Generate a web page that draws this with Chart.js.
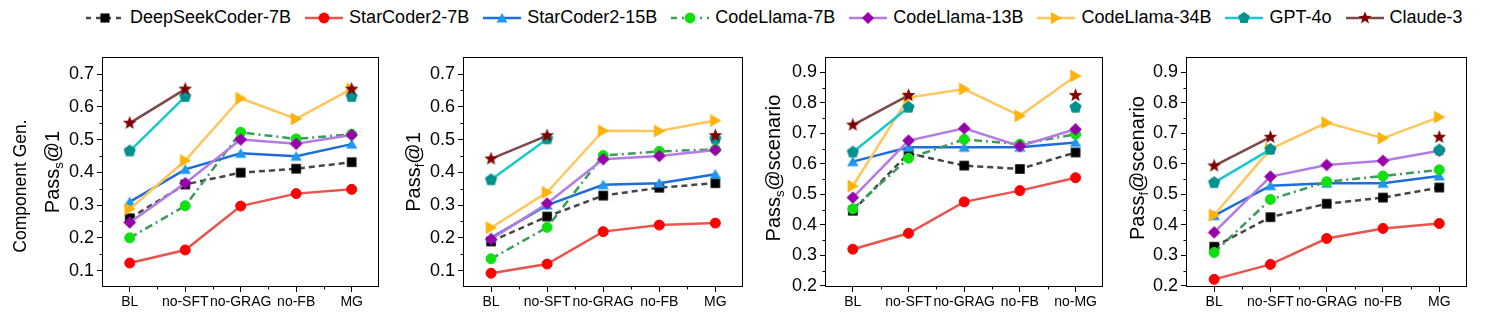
<!DOCTYPE html>
<html>
<head>
<meta charset="utf-8">
<script src="https://cdn.jsdelivr.net/npm/chart.js@4.4.1/dist/chart.umd.min.js"></script>
<style>
  body { margin: 0; background: #fff; width: 1499px; height: 320px; position: relative; overflow: hidden; font-family: "Liberation Sans", Arial, sans-serif; }
  #legend { position: absolute; left: 84px; top: 7px; display: flex; align-items: center; gap: 12px; }
  .item { display: flex; align-items: center; }
  .item canvas { display: block; }
  .txt { white-space: nowrap; margin-left: 4px; font-size: 18px; color: #000; }
  .panel { position: absolute; top: 40px; }
</style>
</head>
<body>
<div id="legend"></div>
<canvas id="p1" class="panel"></canvas>
<canvas id="p2" class="panel"></canvas>
<canvas id="p3" class="panel"></canvas>
<canvas id="p4" class="panel"></canvas>
<script>
// categories and tick labels
const categories = ['BL', 'no-SFT', 'no-GRAG', 'no-FB', 'MG'];
const categoriesNoMG = ['BL', 'no-SFT', 'no-GRAG', 'no-FB', 'no-MG'];
const ticksLow = [0.1, 0.2, 0.3, 0.4, 0.5, 0.6, 0.7];
const ticksHigh = [0.2, 0.3, 0.4, 0.5, 0.6, 0.7, 0.8, 0.9];

// values: one row per panel (Pass_s@1, Pass_f@1, Pass_s@scenario, Pass_f@scenario)
const deepSeek7B = [
  [0.26, 0.363, 0.399, 0.411, 0.431],
  [0.189, 0.265, 0.329, 0.353, 0.367],
  [0.446, 0.634, 0.594, 0.583, 0.637],
  [0.328, 0.425, 0.469, 0.489, 0.522]
];
const starCoder7B = [
  [0.123, 0.163, 0.297, 0.335, 0.348],
  [0.092, 0.12, 0.219, 0.239, 0.245],
  [0.32, 0.372, 0.475, 0.512, 0.554],
  [0.221, 0.27, 0.355, 0.388, 0.404]
];
const starCoder15B = [
  [0.31, 0.409, 0.458, 0.449, 0.486],
  [0.2, 0.3, 0.362, 0.367, 0.394],
  [0.607, 0.654, 0.654, 0.654, 0.67],
  [0.43, 0.528, 0.536, 0.536, 0.56]
];
const codeLlama7B = [
  [0.2, 0.298, 0.522, 0.502, 0.516],
  [0.136, 0.232, 0.451, 0.464, 0.47],
  [0.452, 0.618, 0.68, 0.664, 0.697],
  [0.309, 0.483, 0.541, 0.56, 0.58]
];
const codeLlama13B = [
  [0.247, 0.367, 0.5, 0.487, 0.514],
  [0.196, 0.305, 0.44, 0.45, 0.468],
  [0.489, 0.676, 0.716, 0.658, 0.713],
  [0.375, 0.558, 0.596, 0.61, 0.643]
];
const codeLlama34B = [
  [0.288, 0.436, 0.626, 0.563, 0.655],
  [0.231, 0.339, 0.527, 0.526, 0.558],
  [0.527, 0.817, 0.845, 0.757, 0.888],
  [0.432, 0.648, 0.735, 0.684, 0.753]
];
const gpt4o = [
  [0.465, 0.631, null, null, 0.631],
  [0.377, 0.502, null, null, 0.502],
  [0.638, 0.785, null, null, 0.785],
  [0.538, 0.647, null, null, 0.645]
];
const claude3 = [
  [0.55, 0.654, null, null, 0.654],
  [0.441, 0.512, null, null, 0.512],
  [0.727, 0.824, null, null, 0.824],
  [0.593, 0.687, null, null, 0.687]
];

const FONT = '"Liberation Sans", Arial, sans-serif';

const series = [
  { name: 'DeepSeekCoder-7B', data: deepSeek7B, line: '#454545', mark: '#000000', dash: [6, 4], shape: 'square', r: 4.8 },
  { name: 'StarCoder2-7B', data: starCoder7B, line: '#e8554d', mark: '#ff0000', dash: [], shape: 'circle', r: 5.6 },
  { name: 'StarCoder2-15B', data: starCoder15B, line: '#1d6ed8', mark: '#2196ee', dash: [], shape: 'triUp', r: 6.6 },
  { name: 'CodeLlama-7B', data: codeLlama7B, line: '#3c9a5c', mark: '#10e010', dash: [8, 4, 2, 4], shape: 'circle', r: 5.6 },
  { name: 'CodeLlama-13B', data: codeLlama13B, line: '#b27ce2', mark: '#9800aa', dash: [], shape: 'diamond', r: 6.3 },
  { name: 'CodeLlama-34B', data: codeLlama34B, line: '#ffc65e', mark: '#ffb20a', dash: [], shape: 'triRight', r: 7.6 },
  { name: 'GPT-4o', data: gpt4o, line: '#18c8cc', mark: '#00908e', dash: [], shape: 'pentagon', r: 6.4 },
  { name: 'Claude-3', data: claude3, line: '#7c4848', mark: '#800000', dash: [], shape: 'star', r: 7.2 }
];

function drawMarker(ctx, shape, x, y, r) {
  ctx.beginPath();
  const poly = (n, start, radii) => {
    for (let k = 0; k < n; k++) {
      const a = start + k * 2 * Math.PI / n;
      const rr = radii[k % radii.length];
      const px = x + Math.cos(a) * rr, py = y + Math.sin(a) * rr;
      if (k === 0) ctx.moveTo(px, py); else ctx.lineTo(px, py);
    }
    ctx.closePath();
  };
  if (shape === 'square') ctx.rect(x - r, y - r, 2 * r, 2 * r);
  else if (shape === 'circle') ctx.arc(x, y, r, 0, 2 * Math.PI);
  else if (shape === 'triUp') poly(3, -Math.PI / 2, [r]);
  else if (shape === 'triRight') poly(3, 0, [r]);
  else if (shape === 'diamond') poly(4, -Math.PI / 2, [r]);
  else if (shape === 'pentagon') poly(5, -Math.PI / 2, [r]);
  else if (shape === 'star') poly(10, -Math.PI / 2, [r, r * 0.42]);
  ctx.fill();
}

function markerImage(s) {
  const size = Math.ceil(2 * s.r) + 2;
  const c = document.createElement('canvas');
  c.width = size; c.height = size;
  const cx = c.getContext('2d');
  cx.fillStyle = s.mark;
  const off = s.shape === 'triUp' ? s.r * 0.2 : (s.shape === 'triRight' ? -s.r * 0.2 : 0);
  if (s.shape === 'triRight') drawMarker(cx, s.shape, size / 2 + off, size / 2, s.r);
  else drawMarker(cx, s.shape, size / 2, size / 2 + off, s.r);
  return c;
}

// legend
const legend = document.getElementById('legend');
series.forEach(s => {
  const item = document.createElement('div');
  item.className = 'item';
  const c = document.createElement('canvas');
  c.width = 42; c.height = 18;
  const ctx = c.getContext('2d');
  ctx.strokeStyle = s.line;
  ctx.lineWidth = 2.5;
  ctx.setLineDash(s.dash.length > 2 ? [6, 5, 2, 5] : (s.dash.length ? [5, 5] : []));
  ctx.beginPath(); ctx.moveTo(2, 9); ctx.lineTo(40, 9); ctx.stroke();
  ctx.setLineDash([]);
  ctx.fillStyle = s.mark;
  const off = s.shape === 'triUp' ? s.r * 0.2 : (s.shape === 'triRight' ? -s.r * 0.2 : 0);
  if (s.shape === 'triRight') drawMarker(ctx, s.shape, 21 + off, 9, s.r * 0.95);
  else drawMarker(ctx, s.shape, 21, 9 + off, s.shape === 'circle' ? 5.4 : s.r * 0.95);
  const t = document.createElement('div');
  t.className = 'txt';
  t.textContent = s.name;
  item.appendChild(c);
  item.appendChild(t);
  legend.appendChild(item);
});

// frame, minor ticks and y titles with subscripts
const axisDecor = {
  id: 'axisDecor',
  afterDraw(chart, args, opts) {
    const { ctx, chartArea: a, scales: { x, y } } = chart;
    ctx.save();
    ctx.strokeStyle = '#000';
    ctx.lineWidth = 1;
    const L = Math.round(a.left) + 0.5, T = Math.round(a.top) + 0.5;
    const R = Math.round(a.right) - 0.5, B = Math.round(a.bottom) - 0.5;
    ctx.strokeRect(L, T, R - L, B - T);
    ctx.beginPath();
    for (let i = 0; i < opts.yTicks.length - 1; i++) {
      const py = Math.round(y.getPixelForValue((opts.yTicks[i] + opts.yTicks[i + 1]) / 2)) + 0.5;
      ctx.moveTo(L - 3, py); ctx.lineTo(L, py);
    }
    for (let i = 0; i < x.ticks.length - 1; i++) {
      const px = Math.round((x.getPixelForValue(i) + x.getPixelForValue(i + 1)) / 2) + 0.5;
      ctx.moveTo(px, B); ctx.lineTo(px, B + 3);
    }
    ctx.stroke();
    ctx.fillStyle = '#000';
    opts.titles.forEach(tt => {
      ctx.save();
      ctx.translate(tt.x, (a.top + a.bottom) / 2 + (tt.dy || 0));
      ctx.rotate(-Math.PI / 2);
      let total = 0;
      tt.parts.forEach(p => { ctx.font = p[1] + 'px ' + FONT; total += ctx.measureText(p[0]).width; });
      let cx = -total / 2;
      const base = tt.parts[0][1] * 0.36;
      ctx.textBaseline = 'alphabetic';
      tt.parts.forEach(p => {
        ctx.font = p[1] + 'px ' + FONT;
        ctx.fillText(p[0], cx, base + p[2]);
        cx += ctx.measureText(p[0]).width;
      });
      ctx.restore();
    });
    ctx.restore();
  }
};

const panels = [
  { id: 'p1', left: 0, boxLeft: 102, boxRight: 385, labels: categories, yTicks: ticksLow, min: 0.05, max: 0.752,
    titles: [
      { x: 20, dy: 14, parts: [['Component Gen.', 17.5, 0]] },
      { x: 52, parts: [['Pass', 20, 0], ['s', 13, 4], ['@1', 20, 0]] }
    ] },
  { id: 'p2', left: 395, boxLeft: 463, boxRight: 749, labels: categories, yTicks: ticksLow, min: 0.05, max: 0.752,
    titles: [{ x: 18, parts: [['Pass', 20, 0], ['f', 13, 4], ['@1', 20, 0]] }] },
  { id: 'p3', left: 755, boxLeft: 825, boxRight: 1109, labels: categoriesNoMG, yTicks: ticksHigh, min: 0.196, max: 0.95,
    titles: [{ x: 18, dy: -4, parts: [['Pass', 20, 0], ['s', 13, 4], ['@scenario', 20, 0]] }] },
  { id: 'p4', left: 1120, boxLeft: 1186, boxRight: 1473, labels: categories, yTicks: ticksHigh, min: 0.196, max: 0.95,
    titles: [{ x: 17, dy: -4, parts: [['Pass', 20, 0], ['f', 13, 4], ['@scenario', 20, 0]] }] }
];

panels.forEach((p, pi) => {
  const el = document.getElementById(p.id);
  const yW = p.boxLeft - p.left;
  el.width = p.boxRight + 3 - p.left;
  el.height = 280;
  el.style.left = p.left + 'px';
  new Chart(el, {
    type: 'line',
    data: {
      labels: p.labels,
      datasets: series.map((s, i) => ({
        label: s.name,
        data: s.data[pi],
        borderColor: s.line,
        borderWidth: 2.5,
        borderDash: s.dash,
        pointStyle: s.shape === 'circle' ? 'circle' : markerImage(s),
        pointRadius: s.shape === 'circle' ? 5 : s.r,
        pointBorderWidth: 1,
        pointBackgroundColor: s.mark,
        pointBorderColor: s.mark,
        tension: 0,
        spanGaps: false,
        order: series.length - i
      }))
    },
    options: {
      responsive: false,
      animation: false,
      devicePixelRatio: 1,
      layout: { padding: { top: 17, right: 3, left: 0, bottom: 0 } },
      plugins: {
        legend: { display: false },
        tooltip: { enabled: false },
        axisDecor: { yTicks: p.yTicks, titles: p.titles }
      },
      scales: {
        x: {
          type: 'category',
          offset: true,
          grid: { display: true, drawOnChartArea: false, drawTicks: true, tickLength: 5, color: '#000', offset: false },
          border: { display: false },
          ticks: { color: '#000', font: { size: 14, family: FONT }, padding: 2, maxRotation: 0, autoSkip: false },
          afterFit: sc => { sc.height = 33; }
        },
        y: {
          min: p.min,
          max: p.max,
          afterBuildTicks: sc => { sc.ticks = p.yTicks.map(v => ({ value: v })); },
          grid: { display: true, drawOnChartArea: false, drawTicks: true, tickLength: 5, color: '#000' },
          border: { display: false },
          ticks: { color: '#000', font: { size: 18, family: FONT }, padding: 3, callback: v => v.toFixed(1) },
          afterFit: sc => { sc.width = yW; }
        }
      }
    },
    plugins: [axisDecor]
  });
});
</script>
</body>
</html>
